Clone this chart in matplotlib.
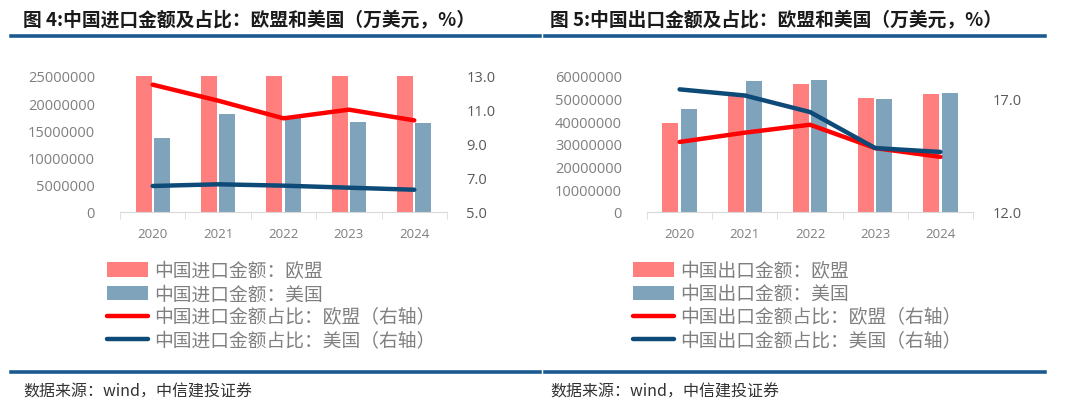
import numpy as np
import matplotlib
matplotlib.use("Agg")
import matplotlib.pyplot as plt
from matplotlib.ticker import FixedLocator, FuncFormatter

plt.rcParams['font.family'] = ['Noto Sans CJK SC', 'DejaVu Sans']

# -------------------- datos --------------------
years = ["2020", "2021", "2022", "2023", "2024"]

# Figura 4: importaciones (万美元) y participación (%)
imp_eu = [25800000, 29900000, 28400000, 27000000, 26900000]
imp_us = [13550000, 17950000, 17400000, 16500000, 16400000]
imp_eu_pct = [12.49, 11.55, 10.51, 11.02, 10.39]
imp_us_pct = [6.53, 6.63, 6.55, 6.43, 6.31]

# Figura 5: exportaciones (万美元) y participación (%)
exp_eu = [39300000, 51800000, 56300000, 50300000, 51900000]
exp_us = [45300000, 57600000, 58200000, 50000000, 52600000]
exp_eu_pct = [15.09, 15.50, 15.85, 14.82, 14.43]
exp_us_pct = [17.41, 17.14, 16.41, 14.82, 14.65]

titles = ["图 4:中国进口金额及占比：欧盟和美国（万美元，%）",
          "图 5:中国出口金额及占比：欧盟和美国（万美元，%）"]
labels_imp = ["中国进口金额：欧盟", "中国进口金额：美国",
              "中国进口金额占比：欧盟（右轴）", "中国进口金额占比：美国（右轴）"]
labels_exp = ["中国出口金额：欧盟", "中国出口金额：美国",
              "中国出口金额占比：欧盟（右轴）", "中国出口金额占比：美国（右轴）"]
source = "数据来源：wind，中信建投证券"

# -------------------- estilo --------------------
C_EU_BAR = "#FF7F7F"
C_US_BAR = "#7FA3BB"
C_EU_LINE = "#FF0000"
C_US_LINE = "#0D4A78"
C_RULE = "#1B5A8E"
W, H = 1080, 410

fig = plt.figure(figsize=(W / 100, H / 100), dpi=100)


def px_axes(x0, y0, x1, y1):
    # caja en píxeles (origen arriba-izquierda) -> ejes de la figura
    return fig.add_axes([x0 / W, 1 - y1 / H, (x1 - x0) / W, (y1 - y0) / H])


def draw_panel(x0, x1, eu, us, eu_pct, us_pct, ylim, yticks, rlim, rticks, labels, leg_x):
    ax = px_axes(x0, 77, x1, 213)
    x = np.arange(len(years))
    bw = 0.245
    b1 = ax.bar(x - 0.14, eu, bw, color=C_EU_BAR, zorder=2)
    b2 = ax.bar(x + 0.14, us, bw, color=C_US_BAR, zorder=2)
    ax.set_xlim(-0.5, len(years) - 0.5)
    ax.set_ylim(*ylim)
    ax.set_yticks(yticks)
    ax.yaxis.set_major_formatter(FuncFormatter(lambda v, p: f"{int(v)}"))
    ax.set_xticks(x)
    ax.set_xticklabels(years)
    ax.xaxis.set_minor_locator(FixedLocator(np.arange(-0.5, len(years), 1.0)))
    for s in ["top", "right", "left"]:
        ax.spines[s].set_visible(False)
    ax.spines["bottom"].set_color("#D9D9D9")
    ax.tick_params(axis="y", length=0, pad=18, labelsize=10.5, labelcolor="#7F7F7F")
    ax.tick_params(axis="x", which="major", length=0, pad=11, labelsize=9.5, labelcolor="#7F7F7F")
    ax.tick_params(axis="x", which="minor", length=5, color="#D9D9D9")
    for t in ax.get_yticklabels() + ax.get_xticklabels():
        t.set_fontfamily(["Open Sans", "DejaVu Sans"])

    ax2 = ax.twinx()
    l1, = ax2.plot(x, eu_pct, color=C_EU_LINE, lw=3.2, solid_capstyle="round", zorder=3)
    l2, = ax2.plot(x, us_pct, color=C_US_LINE, lw=3.2, solid_capstyle="round", zorder=4)
    ax2.set_ylim(*rlim)
    ax2.set_yticks(rticks)
    ax2.yaxis.set_major_formatter(FuncFormatter(lambda v, p: f"{v:.1f}"))
    for s in ["top", "right", "left", "bottom"]:
        ax2.spines[s].set_visible(False)
    ax2.tick_params(axis="y", length=0, pad=14, labelsize=10.5, labelcolor="#595959")
    for t in ax2.get_yticklabels():
        t.set_fontfamily(["Open Sans", "DejaVu Sans"])

    leg = fig.legend([b1, b2, l1, l2], labels, loc="upper left",
                     bbox_to_anchor=(leg_x / W, 1 - 261 / H), frameon=False,
                     fontsize=13.5, labelcolor="#7F7F7F", handlelength=2.2,
                     handleheight=0.8, handletextpad=0.3, labelspacing=0.12,
                     borderpad=0, borderaxespad=0)
    for h in leg.get_lines():
        h.set_solid_capstyle("round")


draw_panel(120, 447, imp_eu, imp_us, imp_eu_pct, imp_us_pct,
           (0, 25000000), np.arange(0, 25000001, 5000000),
           (5, 13), [5, 7, 9, 11, 13], labels_imp, 107)
draw_panel(647, 973, exp_eu, exp_us, exp_eu_pct, exp_us_pct,
           (0, 60000000), np.arange(0, 60000001, 10000000),
           (12, 18), [12, 17], labels_exp, 633)

# títulos, reglas y fuente
for tx, title in zip([23, 550], titles):
    fig.text(tx / W, 1 - 21 / H, title, fontsize=13.5, fontweight="bold",
             color="#1A1A1A", ha="left", va="center")
for (xa, xb) in [(11, 540), (545, 1045)]:
    for yy in [37, 373]:
        fig.add_artist(plt.Line2D([xa / W, xb / W], [1 - yy / H, 1 - yy / H],
                                  color=C_RULE, lw=2.6))
for tx in [23, 550]:
    fig.text(tx / W, 1 - 392 / H, source, fontsize=11.5, style="italic",
             color="#333333", ha="left", va="center")

fig.savefig("out.png", dpi=100)
